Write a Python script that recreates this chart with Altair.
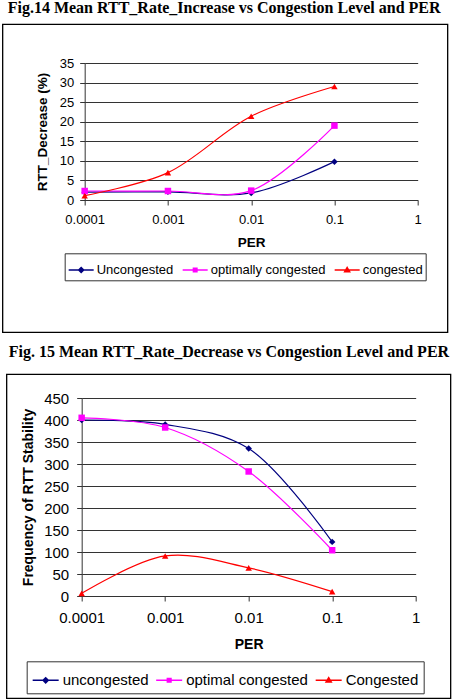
import altair as alt
import pandas as pd

# ---------------- data ----------------
per = [0.0001, 0.001, 0.01, 0.1]
per_ticks = [0.0001, 0.001, 0.01, 0.1, 1]

fig14_title = "Fig.14  Mean RTT_Rate_Increase vs Congestion Level and PER"
fig14_series = ["Uncongested", "optimally congested", "congested"]
fig14_uncongested = [2.0, 2.1, 1.8, 9.8]
fig14_optimal = [2.3, 2.3, 2.4, 19.0]
fig14_congested = [1.1, 7.0, 21.4, 29.0]
fig14_y_ticks = [0, 5, 10, 15, 20, 25, 30, 35]

fig15_title = "Fig. 15 Mean RTT_Rate_Decrease vs Congestion Level and PER"
fig15_series = ["uncongested", "optimal congested", "Congested"]
fig15_uncongested = [400, 390, 335, 123]
fig15_optimal = [405, 383, 283, 104]
fig15_congested = [6, 91, 64, 10]
fig15_y_ticks = [0, 50, 100, 150, 200, 250, 300, 350, 400, 450]

series_colors = ["#000080", "#FF00FF", "#FF0000"]
marker_shapes = ["diamond", "square", "triangle-up"]
# legend glyphs: a line segment with the marker drawn in its middle
legend_paths = [
    "M-1,0H1M0,-0.2L0.2,0L0,0.2L-0.2,0ZM0,-0.09L0.09,0L0,0.09L-0.09,0Z",
    "M-1,0H1M-0.14,-0.14H0.14V0.14H-0.14ZM-0.05,-0.05H0.05V0.05H-0.05Z",
    "M-1,0H1M0,-0.2L0.2,0.14H-0.2ZM0,-0.07L0.08,0.08H-0.08Z",
]


def long_df(series, values):
    rows = []
    for name, vals in zip(series, values):
        for p, v in zip(per, vals):
            rows.append({"PER": p, "value": v, "series": name})
    return pd.DataFrame(rows)


one_row = pd.DataFrame({"k": [0]})


def panel(df, series, y_ticks, y_title, title, w, h, frame, title_pos,
          tick_fs, axis_title_fs, ytitle_pos, xtitle_y, xlab_pad, ylab_pad,
          legend_pos, legend_fs, legend_pad, sym_size, label_off, col_pad):
    x = alt.X(
        "PER:Q",
        scale=alt.Scale(type="log", domain=[per_ticks[0], per_ticks[-1]]),
        axis=alt.Axis(
            values=per_ticks, format=".4~f", labelFlush=False, labelOverlap=False,
            grid=False, tickSize=5, tickColor="#333", domainColor="#333",
            labelFont="Liberation Sans", labelFontSize=tick_fs, labelColor="black",
            labelPadding=xlab_pad,
            title="PER", titleFont="Liberation Sans", titleFontSize=axis_title_fs,
            titleFontWeight="bold", titleColor="black", titleY=xtitle_y,
            titleBaseline="middle",
        ),
    )
    y = alt.Y(
        "value:Q",
        scale=alt.Scale(domain=[y_ticks[0], y_ticks[-1]], nice=False),
        axis=alt.Axis(
            values=y_ticks, grid=True, gridColor="#333", gridWidth=1,
            tickSize=5, tickColor="#333", domainColor="#333",
            labelFont="Liberation Sans", labelFontSize=tick_fs, labelColor="black",
            labelPadding=ylab_pad,
            title=y_title, titleFont="Liberation Sans", titleFontSize=axis_title_fs,
            titleFontWeight="bold", titleColor="black",
            titleX=ytitle_pos[0], titleY=ytitle_pos[1], titleAngle=270,
            titleAlign="center", titleBaseline="middle",
        ),
    )
    legend = alt.Legend(
        title=None, orient="none", direction="horizontal",
        legendX=legend_pos[0], legendY=legend_pos[1],
        strokeColor="#333", padding=legend_pad,
        labelFont="Liberation Sans", labelFontSize=legend_fs,
        labelColor="black", symbolSize=sym_size, labelOffset=label_off,
        columnPadding=col_pad, symbolOpacity=1, symbolStrokeWidth=1.5,
    )

    # data-driven (sorted) domains for the drawn marks, explicit domain for the legend
    lines = alt.Chart(df).mark_line(interpolate="catmull-rom", strokeWidth=1.2).encode(
        x=x, y=y,
        stroke=alt.Stroke("series:N", sort=series, scale=alt.Scale(range=series_colors),
                          legend=None),
        detail="series:N",
    )
    point_layers = []
    for name, shp in zip(series, marker_shapes):
        point_layers.append(
            alt.Chart(df).transform_filter(alt.datum.series == name)
            .mark_point(filled=True, size=42, opacity=1, shape=shp)
            .encode(
                x=x, y=y,
                fill=alt.Fill("series:N", sort=series,
                              scale=alt.Scale(range=series_colors),
                              legend=None),
            )
        )
    legend_layer = alt.Chart(df).transform_filter("false").mark_point(
        filled=False, opacity=1, strokeWidth=1.5
    ).encode(
        x=x, y=y,
        color=alt.Color("series:N", scale=alt.Scale(domain=series, range=series_colors),
                        legend=legend),
        shape=alt.Shape("series:N", scale=alt.Scale(domain=series, range=legend_paths),
                        legend=legend),
    )
    box = alt.Chart(one_row).mark_rect(filled=False, color="black", strokeWidth=1.3).encode(
        x=alt.value(frame[0]), x2=alt.value(frame[1]),
        y=alt.value(frame[2]), y2=alt.value(frame[3]),
    )
    ttl = alt.Chart(one_row).mark_text(
        align="left", baseline="alphabetic", font="Liberation Serif",
        fontWeight="bold", fontSize=16, color="black",
    ).encode(x=alt.value(title_pos[0]), y=alt.value(title_pos[1]), text=alt.value(title))
    return alt.layer(box, ttl, lines, *point_layers, legend_layer).properties(
        width=w, height=h
    )


df14 = long_df(fig14_series, [fig14_uncongested, fig14_optimal, fig14_congested])
df15 = long_df(fig15_series, [fig15_uncongested, fig15_optimal, fig15_congested])

c1 = panel(df14, fig14_series, fig14_y_ticks, "RTT_Decrease (%)", fig14_title,
           333, 137, (-82, 363, -38.7, 269.3), (-77, -49.7),
           13, 13.5, (-42, 68.5), 42, 8, 6,
           (-20, 190.3), 13, 3, 625, 2, 6)
c2 = panel(df15, fig15_series, fig15_y_ticks, "Frequency of RTT Stability", fig15_title,
           334, 198, (-75, 369, -23.7, 300.3), (-73, -40.7),
           15, 14, (-53, 99), 48, 9, 8,
           (-55, 263.3), 15, 5, 676, 3, 4.5)

chart = alt.vconcat(c1, c2, spacing=11, center=True).resolve_scale(
    color="independent", shape="independent", stroke="independent", fill="independent",
    x="independent", y="independent"
).resolve_legend(color="independent", shape="independent").properties(
    padding={"left": 1.5, "top": 0, "right": 0, "bottom": 0}, background="white"
).configure_view(strokeWidth=0)

chart.save("out.html", embed_options={"renderer": "svg", "actions": False})
